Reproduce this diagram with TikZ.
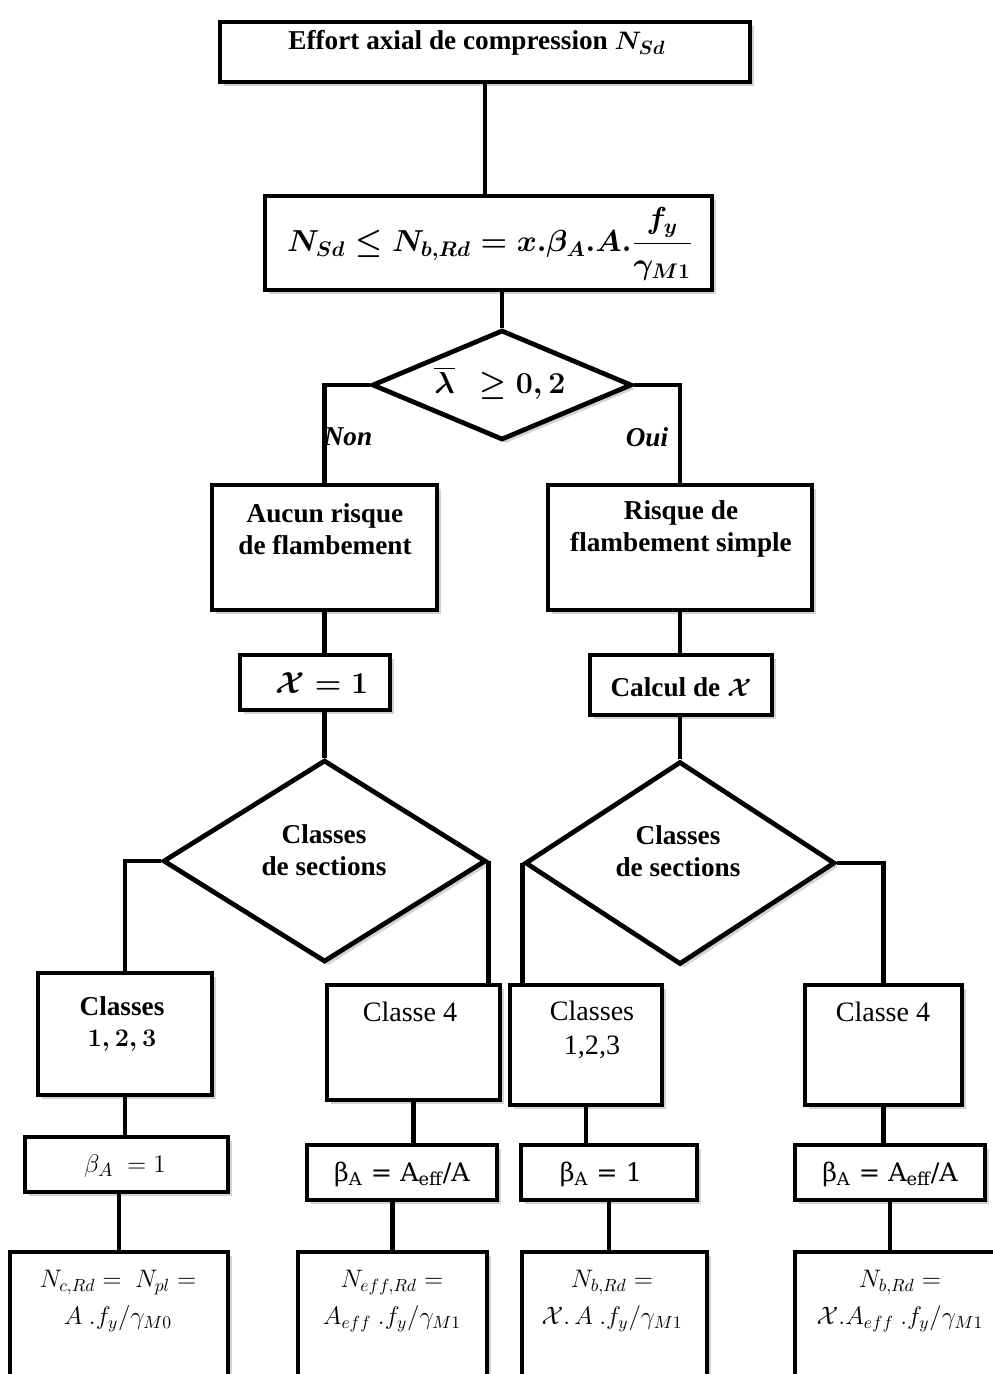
\documentclass[tikz,border=0pt]{standalone}
\usepackage{amsmath,amssymb}
\usepackage{fontspec}
\setmainfont{Liberation Serif}
\newfontfamily\droit{DejaVu Serif}
\usetikzlibrary{shapes.geometric,fit,shadows}

\begin{document}
\begin{tikzpicture}[x=0.02cm, y=-0.02cm, line width=2.7pt,
    box/.style={draw, rectangle, inner sep=0pt, fill=white,
      drop shadow={shadow xshift=2.2pt, shadow yshift=-2.2pt, opacity=0.35}},
    losange/.style={draw, diamond, inner sep=0pt, fill=white,
      drop shadow={shadow xshift=2.2pt, shadow yshift=-2.2pt, opacity=0.35}},
    titre/.style={font=\fontsize{15.5}{18}\selectfont\bfseries\boldmath, align=center},
    texte/.style={font=\fontsize{16}{19}\selectfont, align=center},
    formule/.style={font=\fontsize{14.5}{21}\selectfont, align=center},
    betadroit/.style={font=\fontsize{14.5}{17}\selectfont\droit}]
  \useasboundingbox (0,0) rectangle (993,1374);

  % Effort et verification
  \node[box, fit={(220,22) (750,82)}] (effort) {};
  \node[titre] (effort-t) at (477,43) {Effort axial de compression $N_{Sd}$};
  \node[box, fit={(265,196) (712,290)}] (verif) {};
  \node[font=\fontsize{16.5}{20}\selectfont\boldmath] (verif-t) at (490,244)
    {$N_{Sd} \leq N_{b,Rd} = x.\beta_A.A.\dfrac{f_y}{\gamma_{M1}}$};

  % Elancement reduit
  \node[losange, minimum width=5.2cm, minimum height=2.2cm, aspect=2.36] (lam) at (502,385) {};
  \node[font=\fontsize{16.5}{19}\selectfont\boldmath] (lam-t) at (500,383) {$\overline{\lambda}\ \ \geq 0,2$};
  \node[titre, font=\fontsize{15.5}{18}\selectfont\bfseries\itshape] (non) at (348,437) {Non};
  \node[titre, font=\fontsize{15.5}{18}\selectfont\bfseries\itshape] (oui) at (647,437) {Oui};

  % Risque de flambement
  \node[box, fit={(212,485) (437,610)}] (aucun) {};
  \node[titre] (aucun-t) at (325,529) {Aucun risque\\de flambement};
  \node[box, fit={(548,485) (812,610)}] (risque) {};
  \node[titre] (risque-t) at (681,529) {Risque de\\flambement simple};
  \node[box, fit={(240,655) (390,710)}] (chi1) {};
  \node[titre, font=\fontsize{16}{19}\selectfont\bfseries\boldmath] (chi1-t) at (322,683) {$\mathcal{X} = 1$};
  \node[box, fit={(590,655) (772,715)}] (calc) {};
  \node[titre] (calc-t) at (681,687) {Calcul de $\mathcal{X}$};

  % Classes de sections
  \node[losange, minimum width=6.46cm, minimum height=4.04cm, aspect=1.6] (sec1) at (324.5,861) {};
  \node[titre] (sec1-t) at (324,850) {Classes\\de sections};
  \node[losange, minimum width=6.2cm, minimum height=4.06cm, aspect=1.53] (sec2) at (680,863) {};
  \node[titre] (sec2-t) at (678,851) {Classes\\de sections};

  \node[box, fit={(38,973) (212,1095)}] (cla) {};
  \node[titre] (cla-t) at (122,1024) {Classes\\$1,2,3$};
  \node[box, fit={(327,985) (500,1100)}] (c4a) {};
  \node[texte] (c4a-t) at (410,1012) {Classe 4};
  \node[box, fit={(510,985) (662,1105)}] (clb) {};
  \node[texte] (clb-t) at (592,1030) {Classes\\1,2,3};
  \node[box, fit={(805,985) (962,1105)}] (c4b) {};
  \node[texte] (c4b-t) at (883,1012) {Classe 4};

  % Coefficient beta_A
  \node[box, fit={(25,1137) (228,1192)}] (ba1) {};
  \node[formule, font=\fontsize{15.5}{18}\selectfont] (ba1-t) at (125,1166) {$\beta_A\ = 1$};
  \node[box, fit={(307,1145) (497,1200)}] (ba2) {};
  \node[betadroit] (ba2-t) at (402,1174) {β\textsubscript{A} = A\textsubscript{eff}/A};
  \node[box, fit={(521,1145) (697,1200)}] (ba3) {};
  \node[betadroit] (ba3-t) at (601,1174) {β\textsubscript{A} = 1};
  \node[box, fit={(795,1145) (985,1200)}] (ba4) {};
  \node[betadroit] (ba4-t) at (890,1174) {β\textsubscript{A} = A\textsubscript{eff}/A};

  % Resistances
  \node[box, fit={(10,1252) (228,1400)}] (res1) {};
  \node[formule] (res1-t) at (118,1301) {$N_{c,Rd} =\ N_{pl} =$\\$A\ .f_y/\gamma_{M0}$};
  \node[box, fit={(298,1252) (487,1400)}] (res2) {};
  \node[formule] (res2-t) at (392,1301) {$N_{eff,Rd} =$\\$A_{eff}\ .f_y/\gamma_{M1}$};
  \node[box, fit={(522,1252) (707,1400)}] (res3) {};
  \node[formule] (res3-t) at (612,1301) {$N_{b,Rd} =$\\$\mathcal{X}.\,A\ .f_y/\gamma_{M1}$};
  \node[box, fit={(795,1252) (1010,1400)}] (res4) {};
  \node[formule] (res4-t) at (900,1301) {$N_{b,Rd} =$\\$\mathcal{X}.A_{eff}\ .f_y/\gamma_{M1}$};

  % Liaisons
  \draw (effort.south) -- (effort.south |- verif.north);
  \draw (verif.south -| lam.north) -- (lam.north);
  \draw (lam.west) -| (aucun.north);
  \draw (lam.east) -| (risque.north);
  \draw (aucun.south) -- (aucun.south |- chi1.north);
  \draw (risque.south) -- (risque.south |- calc.north);
  \draw (sec1.north |- chi1.south) -- (sec1.north);
  \draw (sec2.north |- calc.south) -- (sec2.north);
  \draw (sec1.west) -| (cla.north);
  \draw (sec1.east) -- (sec1.east |- c4a.north);
  \draw (sec2.west) -- (sec2.west |- clb.north);
  \draw (sec2.east) -| (c4b.north);
  \draw (cla.south) -- (cla.south |- ba1.north);
  \draw (c4a.south) -- (c4a.south |- ba2.north);
  \draw (clb.south) -- (clb.south |- ba3.north);
  \draw (c4b.south) -- (c4b.south |- ba4.north);
  \draw (res1.north |- ba1.south) -- (res1.north);
  \draw (res2.north |- ba2.south) -- (res2.north);
  \draw (ba3.south) -- (ba3.south |- res3.north);
  \draw (ba4.south) -- (ba4.south |- res4.north);
\end{tikzpicture}
\end{document}
